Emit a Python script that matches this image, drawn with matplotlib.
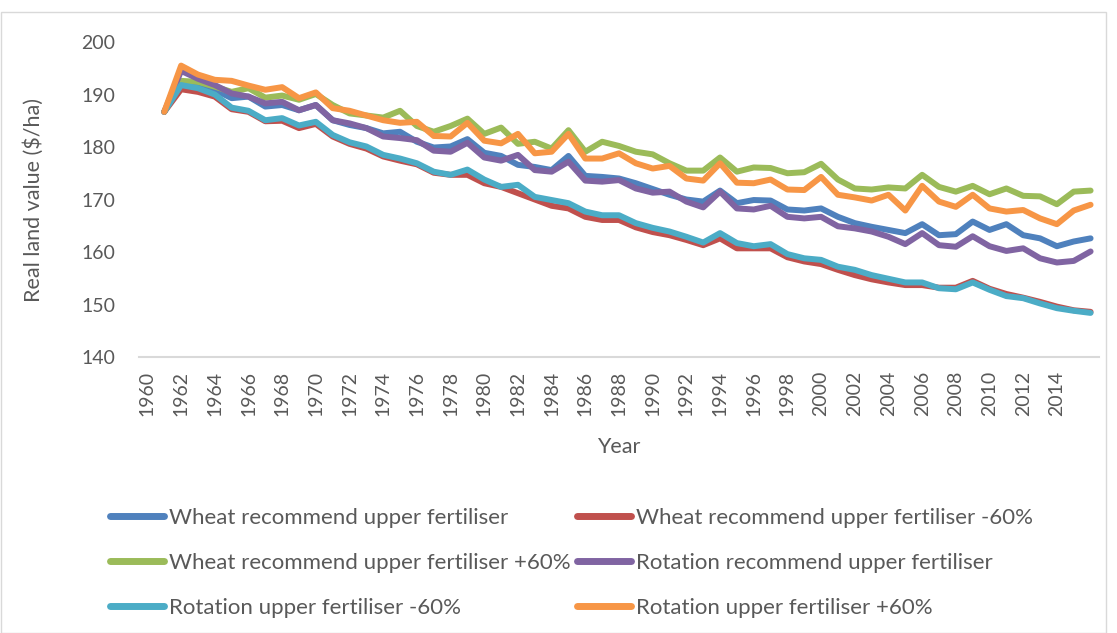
import matplotlib
matplotlib.use("Agg")
import matplotlib.pyplot as plt
from matplotlib.patches import Rectangle

plt.rcParams['font.family'] = ['Lato', 'DejaVu Sans']

years = list(range(1961, 2017))

wheat_rec = [186.7, 192.0, 191.5, 190.9, 189.3, 189.6, 187.7, 188.0, 187.0, 188.0,
             185.1, 184.2, 183.6, 182.6, 182.9, 181.0, 179.9, 180.1, 181.5, 178.9,
             178.3, 176.6, 176.2, 175.6, 178.3, 174.5, 174.3, 174.0, 173.1, 172.0,
             170.9, 170.0, 169.6, 171.7, 169.3, 169.9, 169.8, 168.1, 167.9, 168.3,
             166.7, 165.5, 164.8, 164.2, 163.6, 165.3, 163.2, 163.4, 165.8, 164.2,
             165.3, 163.2, 162.6, 161.1, 162.0, 162.6]
wheat_minus = [186.7, 191.0, 190.5, 189.6, 187.2, 186.7, 184.9, 185.0, 183.6, 184.4,
               182.0, 180.6, 179.7, 178.2, 177.4, 176.7, 175.1, 174.7, 174.7, 173.1,
               172.4, 171.2, 170.0, 168.8, 168.3, 166.7, 166.1, 166.1, 164.7, 163.8,
               163.2, 162.3, 161.3, 162.6, 160.7, 160.7, 160.7, 159.0, 158.2, 157.7,
               156.6, 155.6, 154.8, 154.2, 153.7, 153.7, 153.2, 153.2, 154.5, 153.0,
               152.0, 151.3, 150.5, 149.6, 148.9, 148.6]
wheat_plus = [186.7, 192.6, 192.4, 191.5, 190.5, 191.2, 189.4, 189.8, 189.0, 190.1,
              188.0, 186.4, 186.0, 185.6, 186.9, 184.0, 182.9, 184.0, 185.4, 182.5,
              183.7, 180.6, 181.0, 179.7, 183.2, 179.1, 181.0, 180.2, 179.1, 178.6,
              176.9, 175.5, 175.5, 178.0, 175.3, 176.1, 176.0, 175.0, 175.2, 176.8,
              173.8, 172.1, 171.9, 172.3, 172.1, 174.7, 172.4, 171.5, 172.6, 171.0,
              172.1, 170.7, 170.6, 169.1, 171.5, 171.7]
rotation_rec = [186.7, 194.5, 193.0, 191.8, 190.2, 189.6, 188.3, 188.6, 187.0, 188.0,
                185.1, 184.5, 183.6, 182.0, 181.7, 181.3, 179.3, 179.1, 180.8, 178.0,
                177.4, 178.5, 175.6, 175.3, 177.2, 173.6, 173.4, 173.7, 172.1, 171.3,
                171.5, 169.6, 168.5, 171.5, 168.3, 168.1, 168.8, 166.7, 166.4, 166.7,
                164.9, 164.5, 163.9, 162.9, 161.5, 163.6, 161.3, 161.0, 163.0, 161.1,
                160.2, 160.7, 158.8, 158.0, 158.3, 160.1]
rotation_minus = [186.7, 191.8, 191.2, 190.0, 187.5, 186.9, 185.1, 185.5, 184.1, 184.8,
                  182.3, 180.9, 180.1, 178.5, 177.8, 176.9, 175.3, 174.7, 175.7, 173.8,
                  172.4, 172.8, 170.5, 169.9, 169.3, 167.7, 167.0, 167.0, 165.5, 164.6,
                  163.9, 162.9, 161.8, 163.6, 161.7, 161.1, 161.5, 159.6, 158.8, 158.5,
                  157.2, 156.6, 155.6, 154.9, 154.2, 154.2, 153.1, 152.9, 154.2, 152.8,
                  151.6, 151.2, 150.2, 149.3, 148.8, 148.4]
rotation_plus = [186.7, 195.5, 193.8, 192.8, 192.6, 191.7, 190.9, 191.4, 189.3, 190.4,
                 187.4, 186.9, 186.0, 185.1, 184.6, 184.8, 182.1, 182.0, 184.6, 181.2,
                 180.7, 182.5, 178.8, 179.1, 182.5, 177.8, 177.8, 178.8, 176.9, 175.9,
                 176.4, 174.0, 173.6, 176.9, 173.2, 173.1, 173.8, 171.9, 171.8, 174.3,
                 170.9, 170.4, 169.8, 170.9, 167.9, 172.6, 169.6, 168.6, 170.9, 168.3,
                 167.7, 168.0, 166.4, 165.3, 167.9, 169.0]

series_names = [
    "Wheat recommend upper fertiliser",
    "Wheat recommend upper fertiliser -60%",
    "Wheat recommend upper fertiliser +60%",
    "Rotation recommend upper fertiliser",
    "Rotation upper fertiliser -60%",
    "Rotation upper fertiliser +60%",
]
series_values = [wheat_rec, wheat_minus, wheat_plus, rotation_rec, rotation_minus, rotation_plus]
colors = ["#4F81BD", "#C0504D", "#9BBB59", "#8064A2", "#4BACC6", "#F79646"]

y_ticks = [140, 150, 160, 170, 180, 190, 200]
x_ticks = list(range(1960, 2015, 2))

text_color = "#595959"
W, H = 1117, 633
fig = plt.figure(figsize=(W / 100, H / 100), dpi=100)
ax = fig.add_axes([139 / W, 1 - 357 / H, (1099 - 139) / W, (357 - 42) / H])

handles = []
for name, vals, c in zip(series_names, series_values, colors):
    h, = ax.plot(years, vals, color=c, lw=4.3, solid_joinstyle='round',
                 solid_capstyle='round', label=name)
    handles.append(h)

ax.set_xlim(1959.5, 2016.5)
ax.set_ylim(140, 200)
ax.set_yticks(y_ticks)
ax.set_xticks(x_ticks)
ax.set_xticklabels([str(x) for x in x_ticks], rotation=90)
ax.tick_params(axis='both', length=0, labelsize=14, labelcolor=text_color)
ax.tick_params(axis='x', pad=10)
ax.tick_params(axis='y', pad=17)
for s in ['top', 'right', 'left']:
    ax.spines[s].set_visible(False)
ax.spines['bottom'].set_color("#D9D9D9")
ax.spines['bottom'].set_linewidth(1.5)

ax.set_ylabel("Real land value ($/ha)", fontsize=15.5, color=text_color, labelpad=27)
ax.set_xlabel("Year", fontsize=15.5, color=text_color, labelpad=15)

# legend laid out row by row in two columns
order = [0, 2, 4, 1, 3, 5]
leg = fig.legend([handles[i] for i in order], [series_names[i] for i in order],
                 ncol=2, loc='upper left', bbox_to_anchor=(90 / W, 1 - 488 / H),
                 frameon=False, fontsize=16, handlelength=2.45, handletextpad=0.22,
                 columnspacing=0.25, labelspacing=1.12, labelcolor=text_color)
for lh in leg.get_lines():
    lh.set_linewidth(5)

fig.patches.append(Rectangle((1 / W, 0), 1105 / W, 1 - 12 / H, transform=fig.transFigure,
                             fill=False, edgecolor="#D9D9D9", lw=1))

fig.savefig("out.png", dpi=100)
